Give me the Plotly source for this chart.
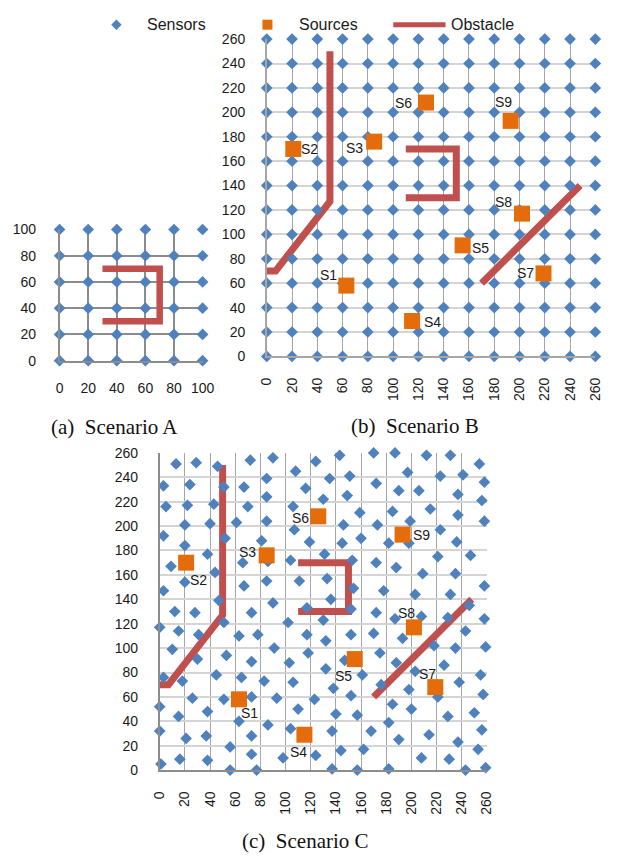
import itertools
import plotly.graph_objects as go

# ---------------- data ----------------
# Scenario A: regular sensor grid
GRID_A = [0, 20, 40, 60, 80, 100]
OBSTACLE_A_X = [30, 70, 70, 30]
OBSTACLE_A_Y = [70, 70, 30, 30]

# Scenario B / C: grid coordinates and ticks
GRID_B = [0, 20, 40, 60, 80, 100, 120, 140, 160, 180, 200, 220, 240, 260]

# Obstacles shared by scenarios B and C (one list per wall)
WALL1_X = [0, 7, 50, 50]
WALL1_Y = [70, 70, 127, 250]
WALL2_X = [110, 150, 150, 110]
WALL2_Y = [170, 170, 130, 130]
WALL3_X = [170, 248]
WALL3_Y = [60, 140]

# Sources (same positions in B and C)
SOURCE_NAMES = ["S1", "S2", "S3", "S4", "S5", "S6", "S7", "S8", "S9"]
SOURCE_X = [63, 21, 85, 115, 155, 126, 219, 202, 193]
SOURCE_Y = [58, 170, 176, 29, 91, 208, 68, 117, 193]

# Scenario C: scattered sensors
SENSORS_C_X = [
    13, 29, 46, 72, 90, 108, 124, 3, 24, 51, 67, 85, 116, 5, 22, 43, 70, 85, 106,
    20, 40, 61, 85, 107, 3, 20, 52, 81, 119, 38, 66, 86, 104, 9, 44, 20, 67, 85, 111,
    3, 47, 90, 12, 28, 73, 117,
    143, 170, 187, 212, 231, 254, 135, 151, 172, 197, 223, 241, 258, 130, 149, 190,
    206, 237, 256, 159, 185, 215, 237, 258, 146, 173, 199, 223, 160, 182, 198, 145,
    236, 131, 153, 172, 188, 221, 247, 133, 154, 178, 209, 235, 258, 136, 203, 231,
    152, 172, 246, 208, 229, 258, 187,
    51, 102, 130, 0, 15, 31, 63, 78, 117, 10, 53, 91, 30, 73, 103, 118, 3, 18, 45,
    65, 83, 106, 26, 51, 73, 93, 123, 0, 15, 38, 63, 86, 110, 0, 21, 37, 73, 104,
    56, 73, 98, 124, 1, 16, 38, 56, 77,
    132, 152, 170, 193, 243, 218, 235, 259, 147, 175, 188, 132, 161, 203, 226, 255,
    138, 176, 198, 221, 238, 257, 152, 185, 200, 140, 157, 182, 229, 250, 137, 168,
    214, 256, 190, 237, 144, 162, 253, 208, 230, 137, 157, 182, 243, 259,
]
SENSORS_C_Y = [
    251, 252, 249, 254, 256, 245, 253, 233, 234, 232, 232, 239, 231, 216, 217, 218, 216, 224, 216,
    201, 202, 203, 204, 197, 192, 184, 190, 188, 187, 177, 170, 171, 172, 167, 162, 154, 151, 155, 155,
    147, 139, 137, 130, 129, 129, 133,
    258, 260, 260, 258, 258, 251, 239, 241, 235, 244, 241, 242, 236, 222, 225, 229,
    229, 226, 221, 211, 212, 214, 209, 204, 201, 201, 204, 197, 190, 186, 186, 186,
    187, 177, 172, 170, 166, 175, 176, 157, 149, 147, 161, 161, 151, 140, 144, 144,
    132, 129, 135, 126, 125, 124, 124,
    121, 121, 123, 117, 114, 111, 110, 111, 111, 99, 94, 100, 91, 89, 88, 96, 76, 73, 78,
    76, 73, 72, 59, 58, 60, 59, 58, 52, 44, 48, 40, 37, 50, 32, 26, 28, 28, 34,
    19, 13, 10, 12, 5, 9, 8, 0, 0,
    106, 111, 112, 108, 114, 102, 100, 101, 90, 96, 88, 83, 78, 81, 86, 78,
    67, 70, 66, 60, 72, 62, 61, 54, 50, 46, 45, 39, 44, 47, 32, 32,
    29, 33, 25, 23, 16, 17, 17, 10, 9, 1, 0, 1, 0, 2,
]
assert len(SENSORS_C_X) == len(SENSORS_C_Y)

SERIES_NAMES = ["Sensors", "Sources", "Obstacle"]
CAPTIONS = ["(a)\u00a0 Scenario A", "(b)\u00a0 Scenario B", "(c)\u00a0 Scenario C"]

# ---------------- styling ----------------
W, H = 626, 863
BLUE = "#4F81BD"
ORANGE = "#E46C0A"
RED = "#C0504D"
FONT = "Liberation Sans, Arial, sans-serif"
SERIF = "Liberation Serif, Times New Roman, serif"

# source label offsets in pixels (dx right, dy down)
LABEL_OFF_B = [(-18, -11), (16, 0), (-20, 6), (20, 1), (18, 3), (-22, 0), (-18, 0), (-19, -12), (-7, -19)]
LABEL_OFF_C = [(11, 14), (12, 17), (-19, -3), (-6, 17), (-11, 17), (-18, 2), (-8, -13), (-7, -14), (19, 0)]


def px_x(p):
    return p / W


def px_y(p):
    return 1 - p / H


def join(*walls):
    xs, ys = [], []
    for wx, wy in walls:
        if xs:
            xs.append(None)
            ys.append(None)
        xs += wx
        ys += wy
    return xs, ys


fig = go.Figure()

# ---------- Scenario A ----------
ax_, ay_ = zip(*itertools.product(GRID_A, GRID_A))
fig.add_trace(go.Scatter(x=OBSTACLE_A_X, y=OBSTACLE_A_Y, mode="lines",
                         line=dict(color=RED, width=6.5), xaxis="x", yaxis="y",
                         cliponaxis=False))
fig.add_trace(go.Scatter(x=list(ax_), y=list(ay_), mode="markers",
                         marker=dict(symbol="diamond", size=9, color=BLUE),
                         xaxis="x", yaxis="y", cliponaxis=False))

# ---------- Scenario B and C ----------
obs_x, obs_y = join((WALL1_X, WALL1_Y), (WALL2_X, WALL2_Y), (WALL3_X, WALL3_Y))
bx_, by_ = zip(*itertools.product(GRID_B, GRID_B))

for xa, ya, sx, sy in [("x2", "y2", list(bx_), list(by_)),
                       ("x3", "y3", SENSORS_C_X, SENSORS_C_Y)]:
    fig.add_trace(go.Scatter(x=obs_x, y=obs_y, mode="lines", name="Obstacle",
                             line=dict(color=RED, width=7),
                             xaxis=xa, yaxis=ya, cliponaxis=False))
    fig.add_trace(go.Scatter(x=sx, y=sy, mode="markers", name="Sensors",
                             marker=dict(symbol="diamond", size=9, color=BLUE),
                             xaxis=xa, yaxis=ya, cliponaxis=False))
    fig.add_trace(go.Scatter(x=SOURCE_X, y=SOURCE_Y, mode="markers", name="Sources",
                             marker=dict(symbol="square", size=16, color=ORANGE),
                             xaxis=xa, yaxis=ya, cliponaxis=False))

# ---------- legend keys (pixel-coordinate overlay axis) ----------
fig.add_trace(go.Scatter(x=[112], y=[17], mode="markers",
                         marker=dict(symbol="diamond", size=8, color=BLUE),
                         xaxis="x4", yaxis="y4", cliponaxis=False))
fig.add_trace(go.Scatter(x=[268], y=[17], mode="markers",
                         marker=dict(symbol="square", size=10, color=ORANGE),
                         xaxis="x4", yaxis="y4", cliponaxis=False))
fig.add_trace(go.Scatter(x=[398, 452], y=[17, 17], mode="lines",
                         line=dict(color=RED, width=5),
                         xaxis="x4", yaxis="y4", cliponaxis=False))

# ---------- axes ----------
tickfont = dict(family=FONT, size=14, color="#1a1a1a")


def axis(domain, rng, dtick, gridcolor, gridwidth, linecolor, standoff, anchor, angle=None):
    d = dict(domain=domain, range=rng, dtick=dtick, tick0=0, showgrid=True,
             gridcolor=gridcolor, gridwidth=gridwidth, zeroline=False,
             showline=True, linecolor=linecolor, linewidth=1.5,
             ticks="", tickfont=tickfont, ticklabelstandoff=standoff,
             fixedrange=True, anchor=anchor)
    if angle is not None:
        d["tickangle"] = angle
    return d


A = dict(l=53.3, r=201.0, t=225.7, b=359.3)
B = dict(l=267.3, r=606.7, t=31.7, b=355.0)
C = dict(l=156.7, r=494.7, t=453.3, b=776.5)

fig.update_layout(
    xaxis=axis([px_x(A["l"]), px_x(A["r"])], [0, 100], 20, "#8c8c8c", 1.5, "#8c8c8c", 14, "y"),
    yaxis=axis([px_y(A["b"]), px_y(A["t"])], [0, 100], 20, "#8c8c8c", 1.5, "#8c8c8c", 19, "x"),
    xaxis2=axis([px_x(B["l"]), px_x(B["r"])], [0, 260], 20, "#a6a6a6", 1, "#a6a6a6", 14, "y2", -90),
    yaxis2=axis([px_y(B["b"]), px_y(B["t"])], [0, 260], 20, "#d4d4d4", 2, "#a6a6a6", 17, "x2"),
    xaxis3=axis([px_x(C["l"]), px_x(C["r"])], [0, 260], 20, "#a6a6a6", 1, "#8c8c8c", 14, "y3", -90),
    yaxis3=axis([px_y(C["b"]), px_y(C["t"])], [0, 260], 20, "#d4d4d4", 2, "#8c8c8c", 17, "x3"),
    xaxis4=dict(domain=[0, 1], range=[0, W], visible=False, fixedrange=True, anchor="y4"),
    yaxis4=dict(domain=[0, 1], range=[H, 0], visible=False, fixedrange=True, anchor="x4"),
)

# ---------- source labels ----------
annotations = []
for xa, ya, offs in [("x2", "y2", LABEL_OFF_B), ("x3", "y3", LABEL_OFF_C)]:
    for name, sx, sy, (dx, dy) in zip(SOURCE_NAMES, SOURCE_X, SOURCE_Y, offs):
        annotations.append(dict(x=sx, y=sy, xref=xa, yref=ya, text=name,
                                showarrow=False, xshift=dx, yshift=-dy,
                                font=dict(family=FONT, size=14, color="#1a1a1a")))

# ---------- legend texts ----------
for name, lx in zip(SERIES_NAMES, [142, 299, 456]):
    annotations.append(dict(x=lx, y=17, xref="x4", yref="y4", text=name,
                            showarrow=False, xanchor="left", yanchor="middle",
                            font=dict(family=FONT, size=16, color="#1a1a1a")))

# ---------- captions ----------
for text, cx, cy in zip(CAPTIONS, [110.3, 420.5, 307.5], [427.3, 426.0, 848.3]):
    annotations.append(dict(x=px_x(cx), y=px_y(cy), xref="paper", yref="paper",
                            text=text, showarrow=False, xanchor="center", yanchor="middle",
                            font=dict(family=SERIF, size=21, color="#111111")))

fig.update_layout(
    width=W, height=H,
    margin=dict(l=0, r=0, t=0, b=0),
    paper_bgcolor="white", plot_bgcolor="rgba(0,0,0,0)",
    annotations=annotations,
    showlegend=False,
)

fig.write_html("out.html")
